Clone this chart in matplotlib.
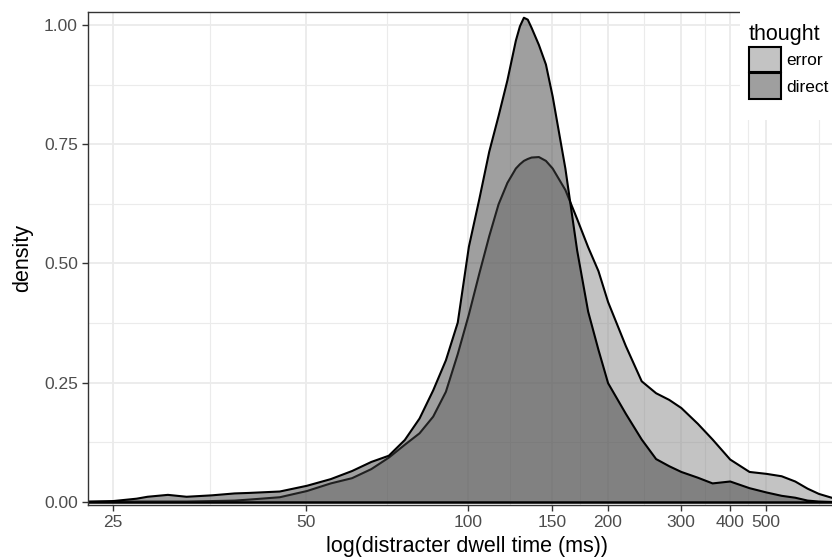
import numpy as np
import matplotlib
matplotlib.use("Agg")
from matplotlib import pyplot as plt
from matplotlib.patches import Patch, Rectangle
from matplotlib.colors import to_rgba

plt.rcParams['font.family'] = ['Liberation Sans', 'DejaVu Sans']

# dwell time (ms) and density
dwell_ms = [23.1, 24, 25, 27, 28, 30, 32, 35, 38, 40,
            45, 50, 55, 60, 65, 70, 75, 80, 85, 90,
            95, 100, 105, 110, 115, 120, 125, 127.5, 130, 132.5,
            135, 140, 145, 150, 160, 170, 180, 190, 200, 220,
            240, 260, 280, 300, 330, 360, 400, 450, 500, 550,
            600, 650, 700, 770, 842]
dens_error = [0.002, 0.002, 0.002, 0.002, 0.002, 0.002, 0.002, 0.003, 0.004, 0.006,
              0.011, 0.024, 0.040, 0.051, 0.070, 0.094, 0.121, 0.145, 0.180, 0.232,
              0.311, 0.394, 0.480, 0.558, 0.625, 0.670, 0.700, 0.709, 0.716, 0.720,
              0.723, 0.724, 0.716, 0.700, 0.655, 0.594, 0.535, 0.485, 0.420, 0.328,
              0.254, 0.229, 0.215, 0.198, 0.165, 0.132, 0.090, 0.064, 0.060, 0.055,
              0.044, 0.029, 0.018, 0.009, 0.004]
dens_direct = [0.001, 0.002, 0.003, 0.008, 0.012, 0.016, 0.012, 0.015, 0.019, 0.020,
               0.023, 0.035, 0.049, 0.066, 0.085, 0.098, 0.131, 0.176, 0.235, 0.298,
               0.377, 0.536, 0.636, 0.735, 0.810, 0.885, 0.968, 0.998, 1.016, 1.012,
               0.995, 0.959, 0.918, 0.851, 0.700, 0.528, 0.400, 0.320, 0.250, 0.186,
               0.132, 0.091, 0.076, 0.064, 0.052, 0.040, 0.044, 0.030, 0.021, 0.014,
               0.010, 0.004, 0.002, 0.001, 0.000]

groups = ['error', 'direct']
fills = {'error': '#898989', 'direct': '#414141'}

x_breaks = [25, 50, 100, 150, 200, 300, 400, 500, 1000]
y_breaks = [0, 0.25, 0.5, 0.75, 1.0]


def fwd(t):
    return np.log(np.log(t))


def inv(u):
    return np.exp(np.exp(u))


fig = plt.figure(figsize=(8.32, 5.57), dpi=100)
ax = fig.add_axes([88 / 832, 1 - 505 / 557, (846 - 88) / 832, (505 - 12) / 557])
ax.set_xscale('function', functions=(fwd, inv))

data = {'error': dens_error, 'direct': dens_direct}
for g in groups:
    ax.fill_between(dwell_ms, 0, data[g], facecolor=to_rgba(fills[g], 0.5),
                    edgecolor='black', linewidth=1.5, joinstyle='round', zorder=2)

ax.set_xlim(23.1, 842)
ax.set_ylim(-0.0063, 1.027)

ax.set_xticks(x_breaks[:-1])
ax.set_xticklabels([str(b) for b in x_breaks[:-1]])
minor_x = [inv((fwd(a) + fwd(b)) / 2) for a, b in zip(x_breaks[:-1], x_breaks[1:])]
ax.set_xticks(minor_x, minor=True)
ax.set_yticks(y_breaks)
ax.set_yticklabels(['%.2f' % v for v in y_breaks])
ax.set_yticks([v + 0.125 for v in y_breaks[:-1]], minor=True)

ax.grid(which='major', color='#ebebeb', linewidth=1.3, zorder=0)
ax.grid(which='minor', color='#ebebeb', linewidth=0.8, zorder=0)
ax.set_axisbelow(True)

ax.tick_params(which='major', length=4.3, width=1, color='#333333',
               labelsize=12.5, labelcolor='#4d4d4d', pad=3)
ax.tick_params(which='minor', length=0)
for s in ['left', 'bottom', 'top']:
    ax.spines[s].set_color('#333333')
    ax.spines[s].set_linewidth(1)
ax.spines['right'].set_visible(False)

ax.set_xlabel('log(distracter dwell time (ms))', fontsize=15.5, labelpad=4)
ax.set_ylabel('density', fontsize=15.5, labelpad=8)

# white legend background covering the panel corner
fig.add_artist(Rectangle((740 / 832, 1 - 120 / 557), 92 / 832, 120 / 557,
                         transform=fig.transFigure, facecolor='white',
                         edgecolor='none', zorder=3))
handles = [Patch(facecolor=to_rgba(fills[g], 0.5), edgecolor='black', linewidth=1.5, label=g)
           for g in groups]
fig.legend(handles=handles, title='thought', loc='upper left',
           bbox_to_anchor=(749 / 832, 1 - 24 / 557), frameon=False,
           borderaxespad=0, borderpad=0, fontsize=12.5, title_fontsize=15.5,
           handlelength=1.84, handleheight=1.84, handletextpad=0.3,
           labelspacing=0.1, alignment='left')

fig.savefig('out.png', dpi=100)
